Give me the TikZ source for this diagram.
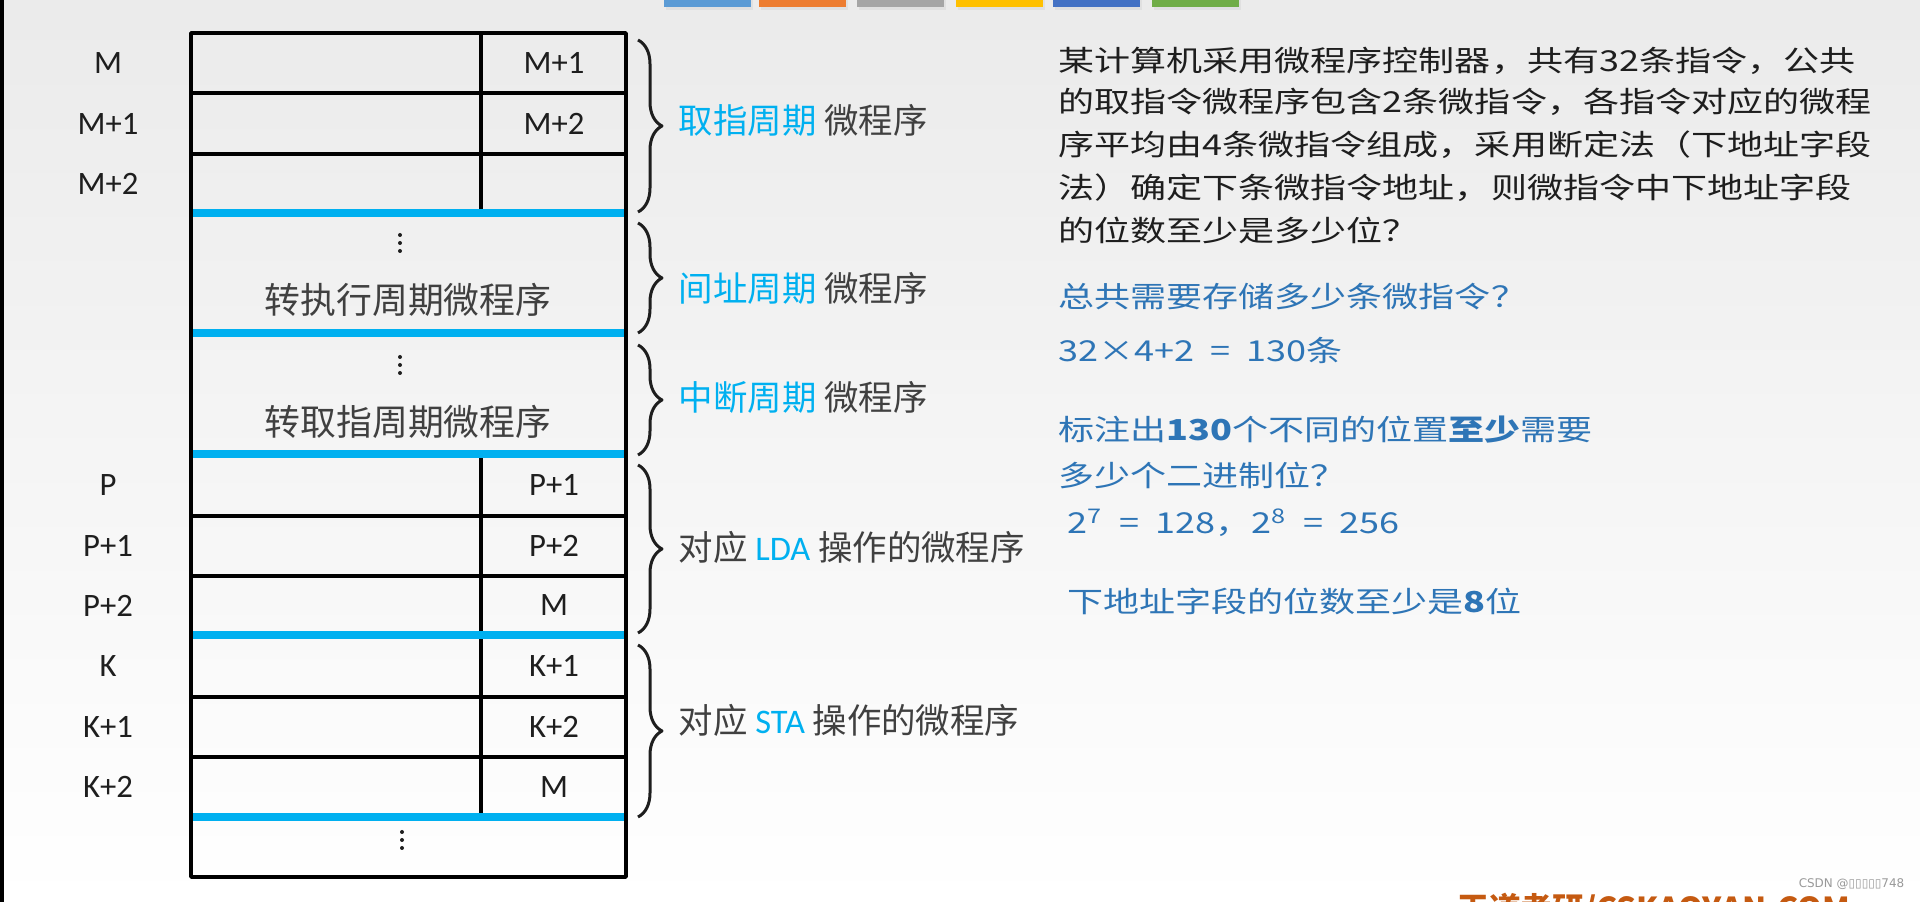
\documentclass[tikz,border=0pt]{standalone}
\usepackage{fontspec}
\setmainfont{Carlito}
\newfontfamily\cjk{Noto Sans CJK SC}
\newfontfamily\cjkw[FakeStretch=1.25]{Noto Sans CJK SC}
\newfontfamily\wmfont{DejaVu Sans}
\usetikzlibrary{decorations.pathreplacing}
\definecolor{lineblue}{HTML}{00B0F0}
\definecolor{textblue}{HTML}{2E75B6}
\definecolor{txtgray}{HTML}{404040}
\definecolor{inkblack}{HTML}{1E1E1E}
\definecolor{brandred}{HTML}{C55A11}
\definecolor{barA}{HTML}{5B9BD5}
\definecolor{barB}{HTML}{ED7D31}
\definecolor{barC}{HTML}{A5A5A5}
\definecolor{barD}{HTML}{FFC000}
\definecolor{barE}{HTML}{4472C4}
\definecolor{barF}{HTML}{70AD47}

\tikzset{
  addr/.style={inner sep=0pt, text=inkblack, font=\fontsize{9.3}{11}\selectfont},
  cell/.style={inner sep=0pt, text=txtgray, font=\cjk\fontsize{10.2}{12}\selectfont},
  lbl/.style={anchor=west, inner sep=0pt, text=txtgray, font=\cjk\fontsize{9.8}{12}\selectfont},
  qline/.style={anchor=west, inner sep=0pt, text=inkblack, font=\cjkw\fontsize{8.2}{10}\selectfont},
  aline/.style={qline, text=textblue},
  sep/.style={lineblue, line width=0.8mm},
  grp/.style={decorate, decoration={brace, amplitude=2.4mm}, line width=0.85pt, inkblack},
  vdots/.pic={\foreach \k in {-0.8,0,0.8} \fill[inkblack] (0,\k) circle (0.2);}
}

\begin{document}
\begin{tikzpicture}[x=1mm, y=-1mm, line join=round]
    \useasboundingbox (0,0) rectangle (192,90.2);

    % 背景
    \shade[top color=black!8, bottom color=white] (0,0) rectangle (192,90.2);
    \fill[black] (0,0) rectangle (0.4,90.2);
    \foreach \x/\c in {66.4/barA, 75.9/barB, 85.7/barC, 95.6/barD, 105.3/barE, 115.2/barF}{
        \fill[black!12] (\x+0.15,0) rectangle (\x+8.85,1.0);
        \fill[\c] (\x,0) rectangle (\x+8.7,0.7);
    }

    % 控存
    \coordinate (A) at (19.1,3.3);
    \coordinate (C) at (62.6,87.7);

    \foreach \y in {9.3,15.4,51.6,57.6,69.7,75.7}
        \draw[line width=1pt] (19.1,\y) -- (62.6,\y);
    \draw[line width=1pt] (48.1,3.3) -- (48.1,21.3);
    \draw[line width=1pt] (48.1,45.4) -- (48.1,81.7);
    \foreach \y in {21.3,33.3,45.4,63.5,81.7}
        \draw[sep] (19.1,\y) -- (62.6,\y);
    \draw[line width=1pt] (A) rectangle (C);

    \foreach \y/\t [count=\i] in {6.3/M, 12.35/M+1, 18.35/M+2, 48.5/P, 54.6/P+1, 60.55/P+2, 66.6/K, 72.7/K+1, 78.7/K+2}
        \node[addr] (l\i) at (10.8,\y) {\t};
    \foreach \y/\t [count=\i] in {6.3/M+1, 12.35/M+2, 48.5/P+1, 54.6/P+2, 60.55/M, 66.6/K+1, 72.7/K+2, 78.7/M}
        \node[addr] (r\i) at (55.4,\y) {\t};

    \pic at (40.0,24.3) {vdots};
    \pic at (40.0,36.5) {vdots};
    \pic at (40.2,84.0) {vdots};
    \node[cell] (jmp1) at (40.8,30.0) {转执行周期微程序};
    \node[cell] (jmp2) at (40.8,42.2) {转取指周期微程序};

    % 花括号
    \draw[grp] (63.8,4.0) -- (63.8,21.2);
    \draw[grp] (63.8,22.3) -- (63.8,33.3);
    \draw[grp] (63.8,34.5) -- (63.8,45.5);
    \draw[grp] (63.8,46.5) -- (63.8,63.3);
    \draw[grp] (63.8,64.5) -- (63.8,81.7);

    \node[lbl] (g1) at (67.8,12.0) {\textcolor{lineblue}{取指周期} 微程序};
    \node[lbl] (g2) at (67.8,28.8) {\textcolor{lineblue}{间址周期} 微程序};
    \node[lbl] (g3) at (67.8,39.7) {\textcolor{lineblue}{中断周期} 微程序};
    \node[lbl] (g4) at (67.8,54.7) {对应 {\rmfamily\textcolor{lineblue}{LDA}} 操作的微程序};
    \node[lbl] (g5) at (67.8,72.0) {对应 {\rmfamily\textcolor{lineblue}{STA}} 操作的微程序};

    % 题目
    \node[qline] (q1) at (105.8,6.1) {某计算机采用微程序控制器，共有32条指令，公共};
    \node[qline] (q2) at (105.8,10.2) {的取指令微程序包含2条微指令，各指令对应的微程};
    \node[qline] (q3) at (105.8,14.5) {序平均由4条微指令组成，采用断定法（下地址字段};
    \node[qline] (q4) at (105.8,18.8) {法）确定下条微指令地址，则微指令中下地址字段};
    \node[qline] (q5) at (105.8,23.1) {的位数至少是多少位？};

    \node[aline] (a1) at (105.8,29.7) {总共需要存储多少条微指令？};
    \node[aline] (a2) at (105.8,35.0) {32×4+2 \ = \ 130条};
    \node[aline] (a3) at (105.8,43.0) {标注出{\bfseries 130}个不同的位置{\bfseries 至少}需要};
    \node[aline] (a4) at (105.8,47.5) {多少个二进制位？};
    \node[aline] (a5) at (106.7,52.3) {2\textsuperscript{7} \ = \ 128，2\textsuperscript{8} \ = \ 256};
    \node[aline] (a6) at (106.7,60.2) {下地址字段的位数至少是{\bfseries 8}位};

    % 水印
    \begin{scope}
        \clip (0,0) rectangle (192,90.2);
        \node[anchor=north west, inner sep=0pt, text=brandred, font=\cjk\bfseries\fontsize{9.0}{11}\selectfont] (brand) at (145.7,89.2) {王道考研/CSKAOYAN.COM};
    \end{scope}
    \node[anchor=east, inner sep=0pt, text=black!40, font=\wmfont\fontsize{3.4}{4}\selectfont] (wm) at (190.5,88.4) {CSDN @▯▯▯▯▯748};
\end{tikzpicture}
\end{document}
